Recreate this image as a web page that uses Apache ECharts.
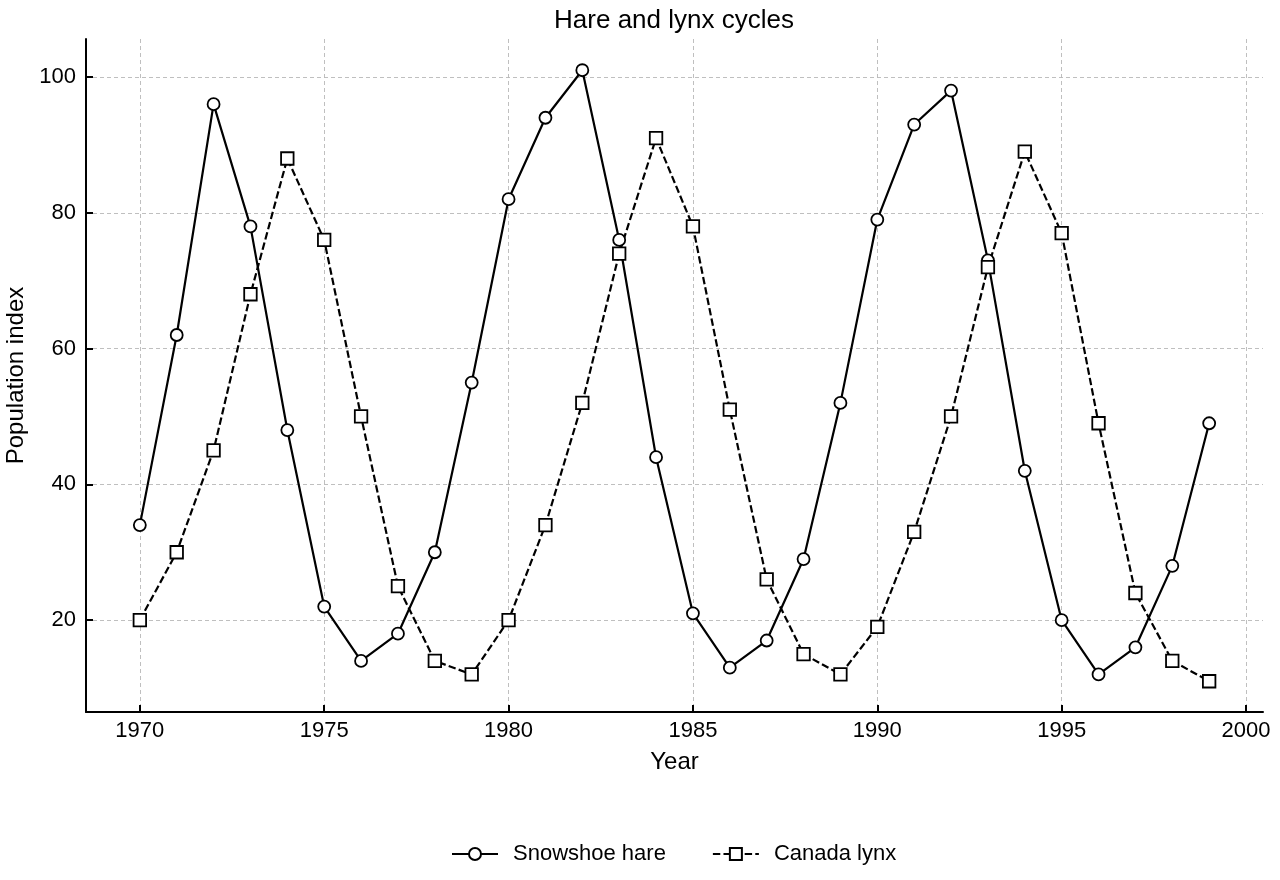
<!DOCTYPE html>
<html>
<head>
<meta charset="utf-8">
<script src="https://cdn.jsdelivr.net/npm/echarts@6/dist/echarts.min.js"></script>
<style>html,body{margin:0;padding:0;background:#fff}#c{width:1280px;height:880px}</style>
</head>
<body>
<div id="c"></div>
<script>
const years = [1970,1971,1972,1973,1974,1975,1976,1977,1978,1979,1980,1981,1982,1983,1984,1985,1986,1987,1988,1989,1990,1991,1992,1993,1994,1995,1996,1997,1998,1999];
const hare = [34,62,96,78,48,22,14,18,30,55,82,94,101,76,44,21,13,17,29,52,79,93,98,73,42,20,12,16,28,49];
const lynx = [20,30,45,68,88,76,50,25,14,12,20,34,52,74,91,78,51,26,15,12,19,33,50,72,89,77,49,24,14,11];

const FONT = 'Liberation Sans, Arial, Helvetica, sans-serif';
const chart = echarts.init(document.getElementById('c'), null, {renderer: 'canvas'});
const axisCommon = {
  axisLine: {show: true, lineStyle: {color: '#000', width: 2}},
  axisTick: {show: true, inside: true, length: 7, lineStyle: {color: '#000', width: 2}},
  axisLabel: {color: '#000', fontSize: 22, fontFamily: FONT, showMinLabel: false, showMaxLabel: false},
  splitLine: {show: true, showMinLine: false, showMaxLine: false, lineStyle: {color: '#b8b8b8', type: [4, 3], width: 0.9}},
  nameTextStyle: {color: '#000', fontSize: 24, fontFamily: FONT},
  nameLocation: 'middle'
};
chart.setOption({
  animation: false,
  backgroundColor: '#fff',
  title: {
    text: 'Hare and lynx cycles', left: 669, top: 3, textAlign: 'center',
    textStyle: {color: '#000', fontSize: 26, fontWeight: 'normal', fontFamily: FONT}
  },
  grid: {left: 86, right: 17, top: 39, bottom: 168, containLabel: false, outerBoundsMode: 'none'},
  xAxis: Object.assign({}, axisCommon, {
    type: 'value', min: 1968.54, max: 2000.46, name: 'Year', nameGap: 38,
    axisLabel: Object.assign({}, axisCommon.axisLabel, {margin: 8, formatter: v => String(Math.round(v))})
  }),
  yAxis: Object.assign({}, axisCommon, {
    type: 'value', min: 6.47, max: 105.6, name: 'Population index', nameGap: 58,
    axisLabel: Object.assign({}, axisCommon.axisLabel, {margin: 10})
  }),
  legend: {
    bottom: 10, left: 446, itemWidth: 46, itemHeight: 15, itemGap: 46,
    textStyle: {color: '#000', fontSize: 22, fontFamily: FONT, padding: [0, 0, 0, 10]},
    data: ['Snowshoe hare', 'Canada lynx']
  },
  series: [
    {
      name: 'Snowshoe hare', type: 'line',
      data: years.map((y, i) => [y, hare[i]]),
      symbol: 'circle', symbolSize: 12, showAllSymbol: true,
      lineStyle: {color: '#000', width: 2.2},
      itemStyle: {color: '#fff', borderColor: '#000', borderWidth: 1.8}
    },
    {
      name: 'Canada lynx', type: 'line',
      data: years.map((y, i) => [y, lynx[i]]),
      symbol: 'rect', symbolSize: 12.5, showAllSymbol: true,
      lineStyle: {color: '#000', width: 2.2, type: [7.4, 3.2]},
      itemStyle: {color: '#fff', borderColor: '#000', borderWidth: 1.8}
    }
  ]
});
</script>
</body>
</html>
